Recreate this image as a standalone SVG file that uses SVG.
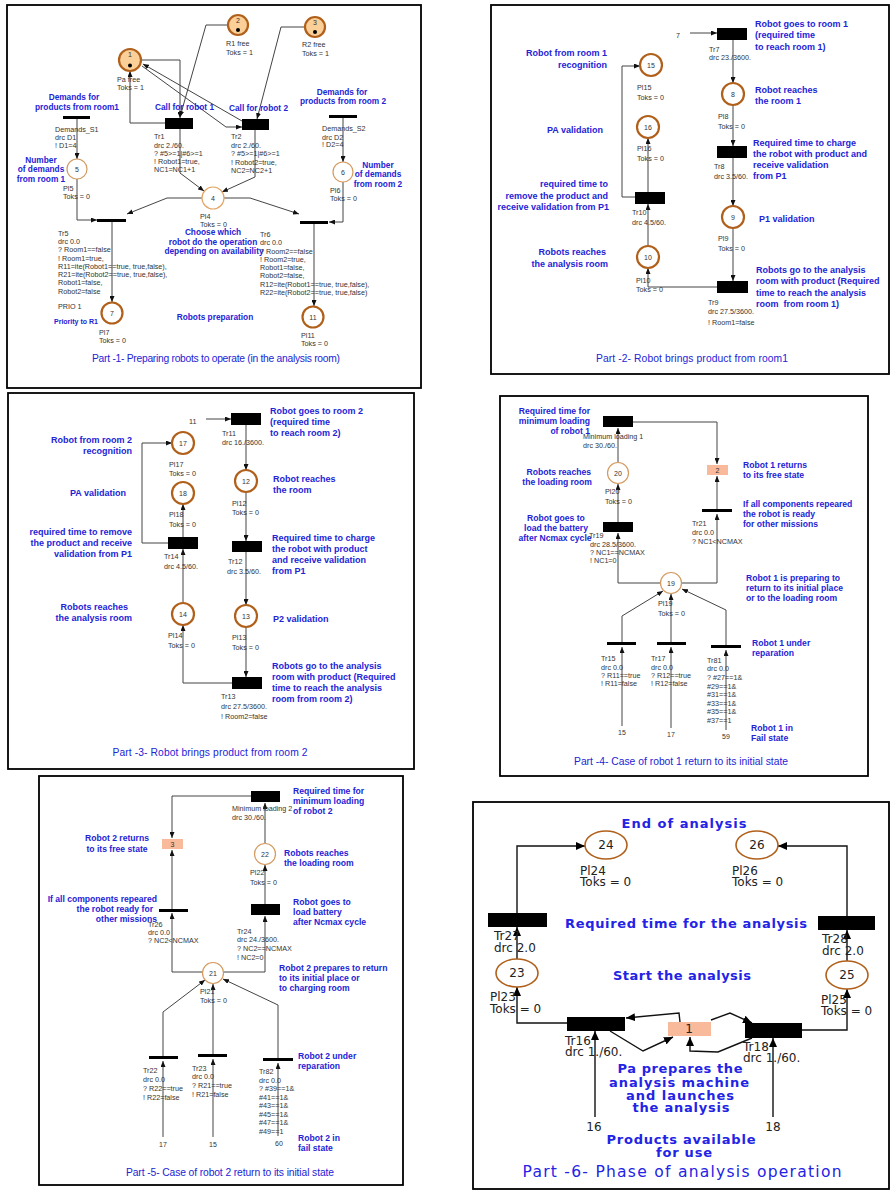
<svg xmlns="http://www.w3.org/2000/svg" width="891" height="1191" viewBox="0 0 891 1191">
<defs>
<marker id="ar" viewBox="0 0 6 5" refX="6" refY="2.5" markerWidth="6" markerHeight="5" markerUnits="userSpaceOnUse" orient="auto"><path d="M0,0 L6,2.5 L0,5 z" fill="#111"/></marker>
<marker id="ar2" viewBox="0 0 9 8" refX="9" refY="4" markerWidth="9" markerHeight="8" markerUnits="userSpaceOnUse" orient="auto"><path d="M0,0 L9,4 L0,8 z" fill="#000"/></marker>
</defs>
<style>
text{dominant-baseline:central}
.t{font-family:"Liberation Sans",Arial,sans-serif;font-size:7.2px;fill:#333}
.n{font-family:"Liberation Sans",Arial,sans-serif;font-size:7px;fill:#333;text-anchor:middle}
.b{font-family:"Liberation Sans",Arial,sans-serif;font-weight:bold;fill:#2323d6}
.b1{font-size:8.3px}
.b2{font-size:9px}
.b4{font-size:8.6px}
.b7{font-size:7px}
.e{text-anchor:end}
.m{text-anchor:middle}
.ti{font-family:"Liberation Sans",Arial,sans-serif;font-size:10.3px;fill:#2323d6;text-anchor:middle}
.frame{fill:none;stroke:#000;stroke-width:1.8}
.pk{fill:#fff;stroke:#b0601a;stroke-width:2.2}
.pl{fill:#fff;stroke:#d49a60;stroke-width:1.2}
.pt{fill:#fbcf98;stroke:#b0601a;stroke-width:2.2}
.tr{fill:#000}
.sal{fill:#f9b99b}
.c path{fill:none;stroke:#444;stroke-width:1;marker-end:url(#ar)}
.c6 path{fill:none;stroke:#111;stroke-width:1.4;marker-end:url(#ar2)}
.d{font-family:"DejaVu Sans",sans-serif;font-size:12px;fill:#222}
.dn{font-family:"DejaVu Sans",sans-serif;font-size:12px;fill:#222;text-anchor:middle}
.db{font-family:"DejaVu Sans",sans-serif;font-weight:bold;font-size:13px;fill:#2323e6;text-anchor:middle}
.pe{fill:#fff;stroke:#b0601a;stroke-width:1.6}
</style>
<rect width="891" height="1191" fill="#fff"/>

<!-- ================= PART 1 ================= -->
<g id="part1">
<rect class="frame" x="7" y="5" width="414" height="383"/>
<text class="ti" x="216" y="358" textLength="248">Part -1- Preparing robots to operate (in the analysis room)</text>
<text class="b b1 m" x="215" y="317">Robots preparation</text>
<text class="b b1 m" x="213" y="232">Choose which</text>
<text class="b b1 m" x="213" y="242">robot do the operation</text>
<text class="b b1 m" x="214" y="251">depending on availability</text>
</g>
<g id="connectors">
<g class="c">
<path d="M77,119 V159"/>
<path d="M77,179 V220 H97"/>
<path d="M202,198 H167 L127,214"/>
<path d="M112,222 V302"/>
<path d="M141,60 H180 V118"/>
<path d="M228,25 H206 L180,117"/>
<path d="M165,123 H130 V71"/>
<path d="M142,66 L226,127 H242"/>
<path d="M242,121 L143,64"/>
<path d="M305,27 H281 L257,119"/>
<path d="M180,129 V173 L204,191"/>
<path d="M255,130 V177 L222,192"/>
<path d="M224,198 H250 L299,214"/>
<path d="M343,118 V162"/>
<path d="M343,182 V222 H329"/>
<path d="M314,223 V306"/>
<!-- part 2 -->
<path d="M690,33 H717"/>
<path d="M733,40 V83"/>
<path d="M733,105 V146"/>
<path d="M733,158 V206"/>
<path d="M733,228 V281"/>
<path d="M717,287 H648 V268"/>
<path d="M648,246 V204"/>
<path d="M648,192 V138"/>
<path d="M635,197 H622 V66 H640"/>
<!-- part 3 -->
<path d="M206,419 H231"/>
<path d="M246,425 V470"/>
<path d="M246,492 V541"/>
<path d="M246,552 V605"/>
<path d="M246,627 V677"/>
<path d="M232,683 H183 V625"/>
<path d="M183,603 V549"/>
<path d="M183,537 V504"/>
<path d="M168,543 H142 V443 H172"/>
<!-- part 4 -->
<path d="M633,422 H717 V464"/>
<path d="M717,510 V476"/>
<path d="M682,583 H717 V514"/>
<path d="M660,583 H618 V533"/>
<path d="M618,522 V484"/>
<path d="M618,462 V428"/>
<path d="M622,643 V616 L663,591"/>
<path d="M671,643 V594"/>
<path d="M726,646 V610 L682,589"/>
<path d="M622,726 V647"/>
<path d="M671,728 V647"/>
<path d="M726,730 V650"/>
<!-- part 5 -->
<path d="M251,796 H172 V838"/>
<path d="M172,909 V850"/>
<path d="M202,972 H172 V913"/>
<path d="M224,972 H265 V916"/>
<path d="M265,904 V865"/>
<path d="M265,843 V803"/>
<path d="M163,1057 V1012 L205,980"/>
<path d="M213,1055 V984"/>
<path d="M278,1059 V1005 L223,979"/>
<path d="M163,1137 V1061"/>
<path d="M213,1137 V1059"/>
<path d="M278,1136 V1063"/>
</g>
<g class="c6">
<path d="M517,913 V846 H585"/>
<path d="M847,916 V846 H778"/>
<path d="M517,959 V927"/>
<path d="M847,961 V930"/>
<path d="M567,1023 H517 V987"/>
<path d="M802,1030 H847 V989"/>
<path d="M680,1022 L679,1013 L626,1018"/>
<path d="M610,1031 L643,1051 L673,1037"/>
<path d="M711,1020 L730,1013 L752,1023"/>
<path d="M752,1038 L718,1052 L690,1051 V1037"/>
<path d="M595,1117 V1031"/>
<path d="M773,1117 V1038"/>
</g>
</g>

<g id="pl1"><circle class="pt" cx="130" cy="60" r="11"/><text class="n" x="130" y="54.5">1</text><circle cx="130" cy="65.5" r="2" fill="#000"/><text class="t" x="117" y="79">Pa free</text><text class="t" x="117" y="87">Toks = 1</text></g>
<g id="pl2"><circle class="pt" cx="238" cy="25" r="10"/><text class="n" x="238" y="20">2</text><circle cx="238" cy="30" r="2" fill="#000"/><text class="t" x="226" y="43">R1 free</text><text class="t" x="226" y="52">Toks = 1</text></g>
<g id="pl3"><circle class="pt" cx="315" cy="27" r="10"/><text class="n" x="315" y="22">3</text><circle cx="315" cy="32" r="2" fill="#000"/><text class="t" x="302" y="44">R2 free</text><text class="t" x="302" y="53">Toks = 1</text></g>
<g id="ds1"><rect class="tr" x="63" y="116" width="27" height="3"/>
<text class="b b1 m" x="74" y="97">Demands for</text><text class="b b1 m" x="77" y="107">products from room1</text>
<text class="t" x="55" y="129">Demands_S1</text><text class="t" x="55" y="137">drc D1</text><text class="t" x="55" y="145">! D1=4</text></g>
<g id="pl5"><circle class="pl" cx="77" cy="169" r="10"/><text class="n" x="77" y="169">5</text>
<text class="b b1 m" x="41" y="160">Number</text><text class="b b1 m" x="41" y="169">of demands</text><text class="b b1 m" x="41" y="179">from room 1</text>
<text class="t" x="63" y="188">Pl5</text><text class="t" x="63" y="196">Toks = 0</text></g>
<g id="tr1"><rect class="tr" x="165" y="118" width="28" height="11"/>
<text class="b b1" x="155" y="107">Call for robot 1</text>
<text class="t" x="154" y="136">Tr1</text><text class="t" x="154" y="145">drc 2./60.</text><text class="t" x="154" y="153">? #5&gt;=1|#6&gt;=1</text><text class="t" x="154" y="161">! Robot1=true,</text><text class="t" x="154" y="169">NC1=NC1+1</text></g>
<g id="tr2"><rect class="tr" x="242" y="119" width="27" height="11"/>
<text class="b b1" x="229" y="108">Call for robot 2</text>
<text class="t" x="231" y="136">Tr2</text><text class="t" x="231" y="145">drc 2./60.</text><text class="t" x="231" y="153">? #5&gt;=1|#6&gt;=1</text><text class="t" x="231" y="162">! Robot2=true,</text><text class="t" x="231" y="170">NC2=NC2+1</text></g>
<g id="ds2"><rect class="tr" x="329" y="115" width="28" height="3"/>
<text class="b b1 m" x="342" y="92">Demands for</text><text class="b b1 m" x="343" y="101">products from room 2</text>
<text class="t" x="322" y="128">Demands_S2</text><text class="t" x="322" y="137">drc D2</text><text class="t" x="322" y="144">! D2=4</text></g>
<g id="pl6"><circle class="pl" cx="343" cy="172" r="10"/><text class="n" x="343" y="172">6</text>
<text class="b b1 m" x="378" y="165">Number</text><text class="b b1 m" x="378" y="174">of demands</text><text class="b b1 m" x="378" y="184">from room 2</text>
<text class="t" x="330" y="190">Pl6</text><text class="t" x="330" y="198">Toks = 0</text></g>
<g id="pl4"><circle class="pl" cx="213" cy="198" r="11" style="stroke:#e3a565"/><text class="n" x="213" y="198">4</text>
<text class="t" x="200" y="216">Pl4</text><text class="t" x="200" y="224">Toks = 0</text></g>
<g id="tr5"><rect class="tr" x="97" y="219" width="29" height="3"/>
<text class="t" x="58" y="233">Tr5</text><text class="t" x="58" y="241">drc 0.0</text><text class="t" x="58" y="249">? Room1==false</text><text class="t" x="58" y="258">! Room1=true,</text><text class="t" x="58" y="266">R11=ite(Robot1==true, true,false),</text><text class="t" x="58" y="274">R21=ite(Robot2==true, true,false),</text><text class="t" x="58" y="282">Robot1=false,</text><text class="t" x="58" y="291">Robot2=false</text>
<text class="t" x="58" y="306">PRIO 1</text><text class="b b7" x="54" y="321">Priority to R1</text></g>
<g id="pl7"><circle class="pk" cx="112" cy="313" r="10.5"/><text class="n" x="112" y="313">7</text><text class="t" x="99" y="332">Pl7</text><text class="t" x="99" y="340">Toks = 0</text></g>
<g id="tr6"><rect class="tr" x="300" y="221" width="28" height="3"/>
<text class="t" x="260" y="234">Tr6</text><text class="t" x="260" y="242">drc 0.0</text><text class="t" x="260" y="251">? Room2==false</text><text class="t" x="260" y="259">! Room2=true,</text><text class="t" x="260" y="267">Robot1=false,</text><text class="t" x="260" y="275">Robot2=false,</text><text class="t" x="260" y="284">R12=ite(Robot1==true, true,false),</text><text class="t" x="260" y="292">R22=ite(Robot2==true, true,false)</text></g>
<g id="pl11"><circle class="pk" cx="313" cy="317" r="10.5"/><text class="n" x="313" y="317">11</text><text class="t" x="301" y="335">Pl11</text><text class="t" x="301" y="343">Toks = 0</text></g>

<!-- ================= PART 2 ================= -->
<g id="part2">
<rect class="frame" x="491" y="5" width="398" height="369"/>
<text class="ti" x="692" y="358" textLength="192">Part -2- Robot brings product from room1</text>
<text class="t" x="676" y="35">7</text>
</g>
<g id="tr7"><rect class="tr" x="717" y="28" width="30" height="12"/>
<text class="t" x="709" y="49">Tr7</text><text class="t" x="709" y="57">drc 23./3600.</text>
<text class="b b2" x="755" y="24">Robot goes to room 1</text><text class="b b2" x="755" y="35">(required time</text><text class="b b2" x="755" y="47">to reach room 1)</text></g>
<g id="pl8"><circle class="pk" cx="733" cy="94" r="11"/><text class="n" x="733" y="94">8</text>
<text class="b b2" x="755" y="90">Robot reaches</text><text class="b b2" x="755" y="101">the room 1</text>
<text class="t" x="718" y="116">Pl8</text><text class="t" x="718" y="126">Toks = 0</text></g>
<g id="tr8"><rect class="tr" x="717" y="146" width="30" height="12"/>
<text class="t" x="714" y="166">Tr8</text><text class="t" x="714" y="176">drc 3.5/60.</text>
<text class="b b2" x="753" y="143">Required time to charge</text><text class="b b2" x="753" y="154">the robot with product and</text><text class="b b2" x="753" y="165">receive validation</text><text class="b b2" x="753" y="176">from P1</text></g>
<g id="pl9"><circle class="pk" cx="733" cy="217" r="11"/><text class="n" x="733" y="217">9</text>
<text class="b b2" x="759" y="219">P1 validation</text>
<text class="t" x="718" y="238">Pl9</text><text class="t" x="718" y="248">Toks = 0</text></g>
<g id="tr9"><rect class="tr" x="717" y="281" width="31" height="12"/>
<text class="t" x="708" y="302">Tr9</text><text class="t" x="708" y="311">drc 27.5/3600.</text><text class="t" x="708" y="322">! Room1=false</text>
<text class="b b2" x="756" y="270">Robots go to the analysis</text><text class="b b2" x="756" y="281">room with product (Required</text><text class="b b2" x="756" y="293">time to reach the analysis</text><text class="b b2" x="756" y="304" xml:space="preserve">room  from room 1)</text></g>
<g id="pl10"><circle class="pk" cx="648" cy="257" r="11"/><text class="n" x="648" y="257">10</text>
<text class="b b2 e" x="606" y="252">Robots reaches</text><text class="b b2 e" x="608" y="264">the analysis room</text>
<text class="t" x="636" y="280">Pl10</text><text class="t" x="636" y="289">Toks = 0</text></g>
<g id="tr10"><rect class="tr" x="635" y="192" width="30" height="12"/>
<text class="t" x="632" y="212">Tr10</text><text class="t" x="632" y="222">drc 4.5/60.</text>
<text class="b b2 e" x="608" y="184">required time to</text><text class="b b2 e" x="608" y="196">remove the product and</text><text class="b b2 e" x="609" y="207">receive validation from P1</text></g>
<g id="pl16"><circle class="pk" cx="648" cy="127" r="11"/><text class="n" x="648" y="127">16</text>
<text class="b b2 e" x="603" y="130">PA validation</text>
<text class="t" x="637" y="148">Pl16</text><text class="t" x="637" y="158">Toks = 0</text></g>
<g id="pl15"><circle class="pk" cx="651" cy="65" r="11"/><text class="n" x="651" y="65">15</text>
<text class="b b2 e" x="607" y="53">Robot from room 1</text><text class="b b2 e" x="607" y="65">recognition</text>
<text class="t" x="637" y="87">Pl15</text><text class="t" x="637" y="97">Toks = 0</text></g>

<!-- ================= PART 3 ================= -->
<g id="part3">
<rect class="frame" x="8" y="393" width="406" height="376"/>
<text class="ti" x="210" y="752" textLength="195">Part -3- Robot brings product from room 2</text>
<text class="t" x="189" y="421">11</text>
</g>
<g id="tr11"><rect class="tr" x="231" y="413" width="30" height="12"/>
<text class="t" x="222" y="433">Tr11</text><text class="t" x="222" y="442">drc 16./3600.</text>
<text class="b b2" x="270" y="411">Robot goes to room 2</text><text class="b b2" x="270" y="422">(required time</text><text class="b b2" x="270" y="433">to reach room 2)</text></g>
<g id="pl12"><circle class="pk" cx="246" cy="481" r="11"/><text class="n" x="246" y="481">12</text>
<text class="b b2" x="273" y="479">Robot reaches</text><text class="b b2" x="273" y="490">the room</text>
<text class="t" x="232" y="503">Pl12</text><text class="t" x="232" y="512">Toks = 0</text></g>
<g id="tr12"><rect class="tr" x="232" y="541" width="30" height="11"/>
<text class="t" x="228" y="561">Tr12</text><text class="t" x="227" y="571">drc 3.5/60.</text>
<text class="b b2" x="272" y="538">Required time to charge</text><text class="b b2" x="272" y="549">the robot with product</text><text class="b b2" x="272" y="560">and receive validation</text><text class="b b2" x="272" y="571">from P1</text></g>
<g id="pl13"><circle class="pk" cx="246" cy="616" r="11"/><text class="n" x="246" y="616">13</text>
<text class="b b2" x="273" y="619">P2 validation</text>
<text class="t" x="232" y="637">Pl13</text><text class="t" x="232" y="647">Toks = 0</text></g>
<g id="tr13"><rect class="tr" x="232" y="677" width="30" height="12"/>
<text class="t" x="221" y="696">Tr13</text><text class="t" x="221" y="706">drc 27.5/3600.</text><text class="t" x="221" y="716">! Room2=false</text>
<text class="b b2" x="272" y="666">Robots go to the analysis</text><text class="b b2" x="272" y="677">room with product (Required</text><text class="b b2" x="272" y="688">time to reach the analysis</text><text class="b b2" x="272" y="699">room from room 2)</text></g>
<g id="pl14"><circle class="pk" cx="183" cy="614" r="11"/><text class="n" x="183" y="614">14</text>
<text class="b b2 e" x="128" y="607">Robots reaches</text><text class="b b2 e" x="132" y="618">the analysis room</text>
<text class="t" x="168" y="635">Pl14</text><text class="t" x="168" y="645">Toks = 0</text></g>
<g id="tr14"><rect class="tr" x="168" y="537" width="30" height="12"/>
<text class="t" x="164" y="556">Tr14</text><text class="t" x="164" y="566">drc 4.5/60.</text>
<text class="b b2 e" x="132" y="532">required time to remove</text><text class="b b2 e" x="132" y="543">the product and receive</text><text class="b b2 e" x="132" y="554">validation from P1</text></g>
<g id="pl18"><circle class="pk" cx="183" cy="493" r="11"/><text class="n" x="183" y="493">18</text>
<text class="b b2 e" x="126" y="493">PA validation</text>
<text class="t" x="169" y="514">Pl18</text><text class="t" x="169" y="524">Toks = 0</text></g>
<g id="pl17"><circle class="pk" cx="183" cy="443" r="11"/><text class="n" x="183" y="443">17</text>
<text class="b b2 e" x="132" y="440">Robot from room 2</text><text class="b b2 e" x="132" y="451">recognition</text>
<text class="t" x="169" y="464">Pl17</text><text class="t" x="169" y="473">Toks = 0</text></g>

<!-- ================= PART 4 ================= -->
<g id="part4">
<rect class="frame" x="500" y="396" width="368" height="380"/>
<text class="ti" x="681" y="761" textLength="214">Part -4- Case of robot 1 return to its initial state</text>
<text class="n" x="622" y="732">15</text><text class="n" x="671" y="734">17</text><text class="n" x="726" y="736">59</text>
</g>
<g id="ml1"><rect class="tr" x="603" y="416" width="30" height="11"/>
<text class="b b4 e" x="590" y="411">Required time for</text><text class="b b4 e" x="590" y="421">minimum loading</text><text class="b b4 e" x="590" y="431">of robot 1</text>
<text class="t" x="583" y="436">Minimum loading 1</text><text class="t" x="583" y="445">drc 30./60.</text></g>
<g id="pl2b"><rect class="sal" x="707" y="465" width="21" height="10"/><text class="n" x="717.5" y="470">2</text>
<text class="b b4" x="743" y="465">Robot 1 returns</text><text class="b b4" x="743" y="475">to its free state</text></g>
<g id="tr21"><rect class="tr" x="702" y="509" width="30" height="3"/>
<text class="b b4" x="743" y="504">If all components repeared</text><text class="b b4" x="743" y="514">the robot is ready</text><text class="b b4" x="743" y="524">for other missions</text>
<text class="t" x="692" y="523">Tr21</text><text class="t" x="692" y="532">drc 0.0</text><text class="t" x="692" y="541">? NC1&lt;NCMAX</text></g>
<g id="pl20"><circle class="pl" cx="618" cy="473" r="10.5"/><text class="n" x="618" y="473">20</text>
<text class="b b4 e" x="591" y="472">Robots reaches</text><text class="b b4 e" x="592" y="482">the loading room</text>
<text class="t" x="605" y="491">Pl20</text><text class="t" x="605" y="501">Toks = 0</text></g>
<g id="tr19"><rect class="tr" x="603" y="522" width="30" height="10"/>
<text class="b b4 m" x="556" y="518">Robot goes to</text><text class="b b4 m" x="556" y="528">load the battery</text><text class="b b4 m" x="555" y="538">after Ncmax cycle</text>
<text class="t" x="589" y="535">Tr19</text><text class="t" x="590" y="544">drc 28.5/3600.</text><text class="t" x="590" y="552">? NC1==NCMAX</text><text class="t" x="590" y="560">! NC1=0</text></g>
<g id="pl19"><circle class="pl" cx="671" cy="583" r="10.5"/><text class="n" x="671" y="583">19</text>
<text class="t" x="658" y="603">Pl19</text><text class="t" x="658" y="613">Toks = 0</text>
<text class="b b4" x="746" y="578">Robot 1 is preparing to</text><text class="b b4" x="746" y="588">return to its initial place</text><text class="b b4" x="746" y="598">or to the loading room</text></g>
<g id="tr15"><rect class="tr" x="607" y="642" width="29" height="3"/>
<text class="t" x="601" y="658">Tr15</text><text class="t" x="601" y="667">drc 0.0</text><text class="t" x="601" y="675">? R11==true</text><text class="t" x="601" y="683">! R11=false</text></g>
<g id="tr17"><rect class="tr" x="657" y="642" width="29" height="3"/>
<text class="t" x="651" y="658">Tr17</text><text class="t" x="651" y="667">drc 0.0</text><text class="t" x="651" y="675">? R12==true</text><text class="t" x="651" y="683">! R12=false</text></g>
<g id="tr81"><rect class="tr" x="711" y="645" width="30" height="3"/>
<text class="b b4" x="752" y="643">Robot 1 under</text><text class="b b4" x="752" y="653">reparation</text>
<text class="t" x="707" y="660">Tr81</text><text class="t" x="707" y="668">drc 0.0</text><text class="t" x="707" y="677">? #27==1&amp;</text><text class="t" x="707" y="686">#29==1&amp;</text><text class="t" x="707" y="694">#31==1&amp;</text><text class="t" x="707" y="703">#33==1&amp;</text><text class="t" x="707" y="711">#35==1&amp;</text><text class="t" x="707" y="720">#37==1</text>
<text class="b b4" x="751" y="728">Robot 1 in</text><text class="b b4" x="751" y="738">Fail state</text></g>

<!-- ================= PART 5 ================= -->
<g id="part5">
<rect class="frame" x="39" y="776" width="364" height="409"/>
<text class="ti" x="230" y="1172" textLength="208">Part -5- Case of robot 2 return to its initial state</text>
<text class="n" x="163" y="1144">17</text><text class="n" x="213" y="1144">15</text><text class="n" x="279" y="1143">60</text>
</g>
<g id="ml2"><rect class="tr" x="251" y="791" width="29" height="11"/>
<text class="t" x="232" y="808">Minimum loading 2</text><text class="t" x="232" y="817">drc 30./60.</text>
<text class="b b4" x="293" y="791">Required time for</text><text class="b b4" x="293" y="801">minimum loading</text><text class="b b4" x="293" y="811">of robot 2</text></g>
<g id="pl3b"><rect class="sal" x="162" y="839" width="21" height="10"/><text class="n" x="172.5" y="844">3</text>
<text class="b b4 m" x="117" y="838">Robot 2 returns</text><text class="b b4 m" x="117" y="849">to its free state</text></g>
<g id="tr26"><rect class="tr" x="159" y="909" width="29" height="3"/>
<text class="b b4 e" x="157" y="899">If all components repeared</text><text class="b b4 e" x="153" y="909">the robot ready for</text><text class="b b4 e" x="157" y="919">other missions</text>
<text class="t" x="148" y="924">Tr26</text><text class="t" x="148" y="932">drc 0.0</text><text class="t" x="148" y="940">? NC2&lt;NCMAX</text></g>
<g id="pl22"><circle class="pl" cx="265" cy="854" r="10.5"/><text class="n" x="265" y="854">22</text>
<text class="b b4" x="284" y="853">Robots reaches</text><text class="b b4" x="284" y="863">the loading room</text>
<text class="t" x="250" y="872">Pl22</text><text class="t" x="250" y="882">Toks = 0</text></g>
<g id="tr24"><rect class="tr" x="251" y="904" width="29" height="11"/>
<text class="b b4" x="293" y="902">Robot goes to</text><text class="b b4" x="293" y="912">load battery</text><text class="b b4" x="293" y="922">after Ncmax cycle</text>
<text class="t" x="237" y="931">Tr24</text><text class="t" x="237" y="939">drc 24./3600.</text><text class="t" x="237" y="948">? NC2==NCMAX</text><text class="t" x="237" y="957">! NC2=0</text></g>
<g id="pl21"><circle class="pl" cx="213" cy="973" r="10.5"/><text class="n" x="213" y="973">21</text>
<text class="t" x="200" y="991">Pl21</text><text class="t" x="200" y="1000">Toks = 0</text>
<text class="b b4" x="279" y="968">Robot 2 prepares to return</text><text class="b b4" x="279" y="978">to its initial place or</text><text class="b b4" x="279" y="988">to charging room</text></g>
<g id="tr22"><rect class="tr" x="149" y="1056" width="29" height="3"/>
<text class="t" x="143" y="1070">Tr22</text><text class="t" x="143" y="1079">drc 0.0</text><text class="t" x="143" y="1088">? R22==true</text><text class="t" x="143" y="1097">! R22=false</text></g>
<g id="tr23"><rect class="tr" x="198" y="1054" width="29" height="3"/>
<text class="t" x="192" y="1068">Tr23</text><text class="t" x="192" y="1076">drc 0.0</text><text class="t" x="192" y="1085">? R21==true</text><text class="t" x="192" y="1094">! R21=false</text></g>
<g id="tr82"><rect class="tr" x="263" y="1058" width="30" height="3"/>
<text class="b b4" x="298" y="1056">Robot 2 under</text><text class="b b4" x="298" y="1066">reparation</text>
<text class="t" x="259" y="1071">Tr82</text><text class="t" x="259" y="1080">drc 0.0</text><text class="t" x="259" y="1088">? #39==1&amp;</text><text class="t" x="259" y="1097">#41==1&amp;</text><text class="t" x="259" y="1105">#43==1&amp;</text><text class="t" x="259" y="1114">#45==1&amp;</text><text class="t" x="259" y="1122">#47==1&amp;</text><text class="t" x="259" y="1131">#49==1</text>
<text class="b b4" x="298" y="1138">Robot 2 in</text><text class="b b4" x="298" y="1148">fail state</text></g>

<!-- ================= PART 6 ================= -->
<g id="part6">
<rect class="frame" x="473" y="802" width="416" height="387"/>
<text class="db" x="682" y="1172" style="font-weight:normal;font-size:15.5px" textLength="319">Part -6- Phase of analysis operation</text>
<text class="db" x="684" y="823" textLength="125">End of analysis</text>
<text class="db" x="686" y="923" textLength="242">Required time for the analysis</text>
<text class="db" x="682" y="975" textLength="138">Start the analysis</text>
<text class="db" x="680" y="1068" textLength="125">Pa prepares the</text>
<text class="db" x="679" y="1082" textLength="140">analysis machine</text>
<text class="db" x="680" y="1095" textLength="108">and launches</text>
<text class="db" x="681" y="1107" textLength="97">the analysis</text>
<text class="db" x="681" y="1139" textLength="149">Products available</text>
<text class="db" x="684" y="1152" textLength="56">for use</text>
<text class="dn" x="594" y="1127">16</text><text class="dn" x="773" y="1127">18</text>
</g>
<g id="pl24"><ellipse class="pe" cx="606" cy="845" rx="21" ry="14"/><text class="dn" x="606" y="845">24</text><text class="d" x="580" y="871">Pl24</text><text class="d" x="580" y="882">Toks = 0</text></g>
<g id="pl26"><ellipse class="pe" cx="757" cy="845" rx="21" ry="14"/><text class="dn" x="757" y="845">26</text><text class="d" x="732" y="871">Pl26</text><text class="d" x="732" y="882">Toks = 0</text></g>
<g id="tr27"><rect class="tr" x="488" y="913" width="59" height="14"/><text class="d" x="494" y="936">Tr27</text><text class="d" x="494" y="948">drc 2.0</text></g>
<g id="tr28"><rect class="tr" x="818" y="916" width="57" height="14"/><text class="d" x="822" y="939">Tr28</text><text class="d" x="822" y="951">drc 2.0</text></g>
<g id="pl23"><ellipse class="pe" cx="517" cy="973" rx="21" ry="14"/><text class="dn" x="517" y="973">23</text><text class="d" x="490" y="997">Pl23</text><text class="d" x="490" y="1009">Toks = 0</text></g>
<g id="pl25"><ellipse class="pe" cx="847" cy="975" rx="21" ry="14"/><text class="dn" x="847" y="975">25</text><text class="d" x="821" y="1000">Pl25</text><text class="d" x="821" y="1011">Toks = 0</text></g>
<g id="tr16"><rect class="tr" x="567" y="1017" width="58" height="14"/><text class="d" x="565" y="1041">Tr16</text><text class="d" x="565" y="1052">drc 1./60.</text></g>
<g id="tr18"><rect class="tr" x="745" y="1023" width="57" height="15"/><text class="d" x="743" y="1047">Tr18</text><text class="d" x="743" y="1058">drc 1./60.</text></g>
<g id="pl1b"><rect class="sal" x="668" y="1022" width="43" height="14"/><text class="dn" x="689" y="1029">1</text></g>
</svg>
